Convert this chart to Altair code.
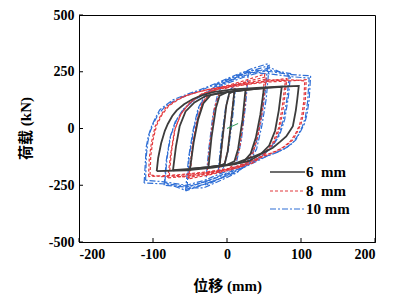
import altair as alt
import pandas as pd

X_TICKS = [-200, -100, 0, 100, 200]
Y_TICKS = [-500, -250, 0, 250, 500]

LEGEND_LABELS = ["6\u00a0\u00a0mm", "8\u00a0\u00a0mm", "10 mm"]

# hysteresis loops, 6 mm specimen (x = displacement mm, y = load kN)
LOOPS_6 = [
    [(-10, -165), (-6, -40), (-1, 100), (3, 155), (10, 165), (6, 40), (1, -100), (-3, -155), (-10, -165)],
    [(-25, -170), (-21, -40), (-15, 90), (-10, 145), (0, 160), (25, 170), (21, 40), (15, -90), (10, -145), (0, -160), (-25, -170)],
    [(-50, -178), (-45, -60), (-39, 40), (-32, 110), (-22, 148), (0, 160), (25, 170), (50, 178), (45, 60), (39, -40),
     (32, -110), (22, -148), (0, -160), (-25, -170), (-50, -178)],
    [(-73, -184), (-69, -80), (-64, 10), (-56, 75), (-44, 115), (-29, 143), (-9, 157), (20, 168), (50, 178), (74, 184),
     (70, 80), (65, -10), (57, -75), (45, -115), (30, -143), (10, -157), (-20, -168), (-50, -178), (-73, -184)],
    [(-95, -188), (-93, -130), (-89, -65), (-84, -10), (-80, 20), (-74, 55), (-68, 80), (-58, 107), (-46, 130),
     (-32, 148), (-19, 160), (8, 172), (40, 179), (70, 184), (97, 188), (95, 130), (93, 80), (89, 10), (84, -15),
     (80, -35), (72, -58), (62, -85), (50, -105), (35, -125), (20, -143), (8, -158), (-19, -172), (-55, -184), (-95, -188)],
]

# 8 mm specimen
LOOPS_8 = [
    [(-10, -175), (-6, -50), (-1, 100), (4, 160), (10, 175), (6, 50), (1, -100), (-4, -160), (-10, -175)],
    [(-27, -205), (-23, -60), (-17, 90), (-10, 160), (0, 180), (27, 205), (23, 60), (17, -90), (10, -160), (0, -180), (-27, -205)],
    [(-52, -222), (-47, -80), (-41, 30), (-34, 110), (-23, 160), (-5, 182), (25, 205), (53, 228), (48, 80), (42, -30),
     (35, -110), (24, -160), (5, -182), (-25, -205), (-52, -222)],
    [(-50, -210), (-46, -70), (-40, 35), (-33, 112), (-22, 162), (-4, 185), (25, 212), (51, 240), (47, 85), (41, -25),
     (34, -105), (23, -155), (4, -178), (-25, -198), (-50, -210)],
    [(-80, -218), (-76, -110), (-71, -10), (-63, 60), (-51, 110), (-35, 150), (-14, 172), (16, 188), (50, 208), (81, 220),
     (77, 110), (72, 10), (64, -60), (52, -110), (36, -150), (15, -172), (-15, -188), (-50, -208), (-80, -218)],
    [(-78, -208), (-75, -100), (-70, 0), (-62, 65), (-50, 115), (-34, 153), (-13, 175), (17, 195), (50, 215), (79, 212),
     (75, 105), (70, 5), (62, -62), (50, -112), (34, -152), (13, -175), (-17, -195), (-50, -215), (-78, -208)],
    [(-106, -212), (-105, -130), (-102, -60), (-97, 10), (-90, 55), (-82, 95), (-70, 122), (-59, 141), (-45, 155),
     (-32, 167), (-10, 180), (20, 192), (56, 205), (86, 210), (107, 215), (106, 130), (103, 60), (100, 20), (95, -15),
     (89, -50), (80, -75), (71, -94), (58, -112), (44, -130), (30, -148), (17, -165), (0, -178), (-25, -190),
     (-60, -202), (-85, -208), (-106, -212)],
    [(-104, -205), (-103, -120), (-100, -50), (-95, 15), (-88, 60), (-79, 98), (-67, 125), (-55, 145), (-40, 160),
     (-25, 172), (-5, 185), (25, 198), (60, 210), (88, 214), (105, 210), (104, 125), (101, 55), (98, 15), (93, -20),
     (86, -55), (77, -80), (67, -98), (54, -115), (40, -133), (26, -152), (12, -170), (-5, -183), (-30, -195),
     (-65, -207), (-88, -212), (-104, -205)],
]

# 10 mm specimen
LOOPS_10 = [
    [(-12, -195), (-8, -60), (-2, 90), (4, 170), (12, 195), (8, 60), (2, -90), (-4, -170), (-12, -195)],
    [(-29, -250), (-25, -100), (-19, 60), (-12, 160), (-3, 200), (12, 225), (29, 250), (25, 100), (19, -60), (12, -160),
     (3, -200), (-12, -225), (-29, -250)],
    [(-56, -275), (-52, -130), (-46, -10), (-39, 90), (-29, 150), (-14, 190), (6, 215), (30, 250), (57, 278), (53, 130),
     (47, 10), (40, -90), (30, -150), (15, -190), (-5, -215), (-30, -245), (-56, -275)],
    [(-54, -262), (-51, -120), (-45, -5), (-38, 92), (-28, 152), (-13, 195), (8, 225), (32, 262), (55, 285), (51, 140),
     (45, 15), (38, -85), (28, -148), (13, -195), (-8, -228), (-32, -262), (-54, -262)],
    [(-85, -250), (-82, -140), (-77, -40), (-70, 30), (-59, 85), (-44, 125), (-24, 165), (1, 200), (26, 230), (56, 258),
     (86, 242), (83, 140), (78, 40), (71, -30), (60, -85), (45, -125), (25, -165), (0, -200), (-25, -230), (-55, -258),
     (-85, -250)],
    [(-84, -238), (-81, -130), (-76, -30), (-68, 38), (-57, 92), (-42, 132), (-22, 172), (3, 210), (30, 240), (58, 268),
     (84, 232), (81, 130), (76, 35), (69, -35), (58, -90), (43, -132), (22, -172), (-3, -212), (-30, -245), (-58, -270),
     (-84, -238)],
    [(-112, -240), (-110, -130), (-109, -79), (-106, -30), (-102, 9), (-97, 45), (-91, 82), (-82, 105), (-73, 126),
     (-55, 150), (-37, 170), (-14, 200), (17, 243), (35, 258), (60, 250), (85, 238), (113, 232), (111, 126), (108, 60),
     (105, 23), (99, -15), (93, -50), (85, -75), (75, -94), (64, -110), (53, -123), (40, -145), (26, -167), (10, -185),
     (-1, -196), (-15, -215), (-28, -233), (-50, -255), (-80, -245), (-112, -240)],
    [(-110, -228), (-109, -120), (-107, -60), (-104, -15), (-99, 25), (-93, 62), (-85, 92), (-75, 115), (-60, 138),
     (-42, 160), (-20, 188), (10, 228), (30, 248), (60, 240), (88, 228), (111, 222), (109, 120), (106, 50), (102, 10),
     (96, -30), (89, -62), (80, -85), (68, -104), (55, -120), (40, -140), (24, -160), (6, -180), (-10, -200),
     (-30, -228), (-55, -250), (-85, -235), (-110, -228)],
]

INITIAL = [(0, 0), (15, 22)]


def frame(loops):
    rows = []
    for k, loop in enumerate(loops):
        for i, (x, y) in enumerate(loop):
            rows.append({"loop": k, "i": i, "x": x, "y": y})
    return pd.DataFrame(rows)


FONT = "Liberation Serif, Noto Sans CJK SC"
LBL = "datum.value < 0 ? '-' + abs(datum.value) : '' + datum.value"

X_AX = alt.Axis(values=X_TICKS, title="位移 (mm)", titleX=148, titleY=43, titleBaseline="middle",
                titleAlign="center", labelExpr=LBL)
Y_AX = alt.Axis(values=Y_TICKS, title="荷载 (kN)", titleX=-54, titleY=113, titleAngle=270,
                titleBaseline="middle", titleAlign="center", labelExpr=LBL)
XS = alt.Scale(domain=[-200, 200], nice=False, zero=False)
YS = alt.Scale(domain=[-500, 500], nice=False, zero=False)


def loop_layer(loops, color, width, dash=None):
    kw = dict(color=color, strokeWidth=width, clip=True)
    if dash:
        kw["strokeDash"] = dash
    return alt.Chart(frame(loops)).mark_line(**kw).encode(
        x=alt.X("x:Q", scale=XS, axis=X_AX),
        y=alt.Y("y:Q", scale=YS, axis=Y_AX),
        detail="loop:N",
        order="i:Q",
    )


BLACK = "#3c3c3c"
RED = "#e2383d"
BLUE = "#2f6fd6"

blue = loop_layer(LOOPS_10, BLUE, 1.2, [6, 2, 2, 2])
red = loop_layer(LOOPS_8, RED, 1.2, [3, 2])
black = loop_layer(LOOPS_6, BLACK, 1.8)
green = loop_layer([INITIAL], "#2f9a5a", 1.0)

one = pd.DataFrame({"a": [0]})
yt = alt.Chart(pd.DataFrame({"y": Y_TICKS})).mark_rule(color="black", strokeWidth=1).encode(
    y=alt.Y("y:Q", scale=YS, axis=Y_AX), x=alt.value(0), x2=alt.value(4))
xt = alt.Chart(pd.DataFrame({"x": X_TICKS})).mark_rule(color="black", strokeWidth=1).encode(
    x=alt.X("x:Q", scale=XS, axis=X_AX), y=alt.value(227), y2=alt.value(223))

legend_layers = []
styles = [(BLACK, 1.5, None), (RED, 1.2, [3, 2]), (BLUE, 1.2, [6, 2, 2, 2])]
rows_y = [157, 176, 194]
for lab, (col, w, dash), yy in zip(LEGEND_LABELS, styles, rows_y):
    kw = dict(color=col, strokeWidth=w)
    if dash:
        kw["strokeDash"] = dash
    legend_layers.append(alt.Chart(one).mark_rule(**kw).encode(
        x=alt.value(191), x2=alt.value(226), y=alt.value(yy)))
    legend_layers.append(alt.Chart(one).mark_text(
        align="left", baseline="middle", font="Liberation Serif", fontSize=15,
        fontWeight="bold", color="black").encode(
        x=alt.value(227), y=alt.value(yy), text=alt.value(lab)))

chart = alt.layer(blue, red, black, green, yt, xt, *legend_layers).properties(
    width=296, height=227,
    padding={"left": 79, "top": 15, "right": 23, "bottom": 63},
    autosize=alt.AutoSizeParams(type="none"),
    background="white",
).configure_view(stroke="black", strokeWidth=1).configure_axis(
    grid=False, ticks=False, tickSize=0, domainColor="black", domainWidth=1,
    labelFont="Liberation Serif", labelFontWeight="bold", labelFontSize=14, labelColor="black",
    labelPadding=5, titleFont=FONT, titleFontWeight="bold", titleFontSize=15, titleColor="black",
)

chart.save("out.html", embed_options={"renderer": "svg", "actions": False})
